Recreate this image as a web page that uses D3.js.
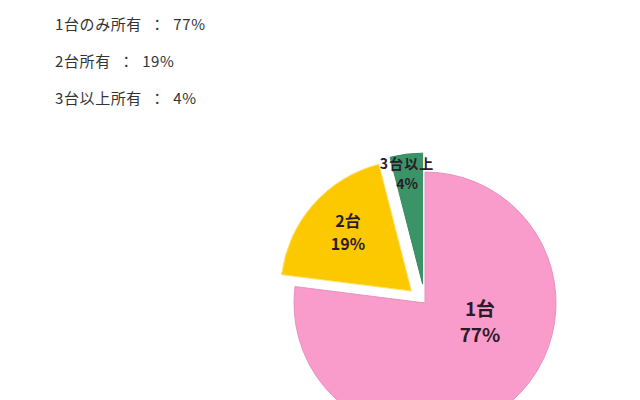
<!DOCTYPE html>
<html>
<head>
<meta charset="utf-8">
<script src="https://cdn.jsdelivr.net/npm/d3@7"></script>
<style>
  body { margin: 0; background: #fff; }
  svg { display: block; }
</style>
</head>
<body>
<div id="chart"></div>
<script>
const categories = ["1台", "2台", "3台以上"];
const values = [77, 19, 4];
const legendLabels = ["1台のみ所有", "2台所有", "3台以上所有"];
const colors = ["#f99ccb", "#fcc800", "#3a9467"];
const explode = [0, 18, 19];

const width = 640, height = 400;

const svg = d3.select("#chart")
  .append("svg")
  .attr("width", width)
  .attr("height", height);

// text summary at top left
svg.append("g")
  .selectAll("text")
  .data(legendLabels)
  .enter()
  .append("text")
  .attr("x", 55)
  .attr("y", (d, i) => 30 + i * 37)
  .style("font-family", "'Noto Sans CJK JP', sans-serif")
  .style("font-size", "15px")
  .style("letter-spacing", "0.6px")
  .style("fill", "#333")
  .attr("xml:space", "preserve")
  .text((d, i) => d + "  ：  " + values[i] + "%");

const radius = 131;
const cx = 425, cy = 303;

const g = svg.append("g").attr("transform", "translate(" + cx + "," + cy + ")");

const pie = d3.pie().sort(null).value((d) => d);
const arc = d3.arc().innerRadius(0).outerRadius(radius);

const arcs = g.selectAll(".arc")
  .data(pie(values))
  .enter()
  .append("g")
  .attr("class", "arc")
  .attr("transform", (d, i) => {
    const a = (d.startAngle + d.endAngle) / 2;
    return "translate(" + Math.sin(a) * explode[i] + "," + (-Math.cos(a) * explode[i]) + ")";
  });

arcs.append("path")
  .attr("d", arc)
  .attr("fill", (d, i) => colors[i])
  .attr("stroke", (d, i) => i === 1 ? "#fde27a" : d3.color(colors[i]).darker(0.2))
  .attr("stroke-width", 1);

// labels inside slices (two separate lines)
const labelPos = [
  { x: 55, y: 13, size: 19, gap: 26, ls: 0 },
  { x: -77, y: -76, size: 16, gap: 23, ls: 0 },
  { x: -18, y: -134, size: 14, gap: 20, ls: 1 }
];

arcs.each(function (d, i) {
  const p = labelPos[i];
  const ang = (d.startAngle + d.endAngle) / 2;
  const ox = Math.sin(ang) * explode[i], oy = -Math.cos(ang) * explode[i];
  const lines = [categories[i], d.data + "%"];
  d3.select(this).selectAll("text")
    .data(lines)
    .enter()
    .append("text")
    .attr("text-anchor", "middle")
    .attr("x", p.x - ox)
    .attr("y", (t, j) => p.y - oy + j * p.gap)
    .style("font-family", "'Noto Sans CJK JP', sans-serif")
    .style("font-weight", "bold")
    .style("font-size", p.size + "px")
    .style("letter-spacing", (t, j) => j === 0 ? p.ls + "px" : "0px")
    .style("fill", "#2b1b28")
    .text((t) => t);
});
</script>
</body>
</html>
